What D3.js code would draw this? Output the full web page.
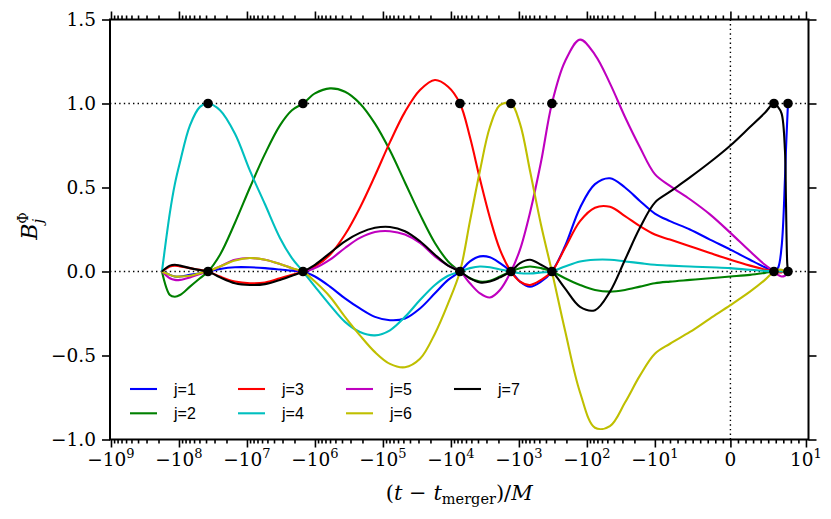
<!DOCTYPE html>
<html><head><meta charset="utf-8">
<script src="https://cdn.jsdelivr.net/npm/d3@7"></script>
<style>body{margin:0;background:#fff}svg{display:block}</style>
</head><body><svg id="c" width="831" height="519"></svg>
<script>
// ---------- data ----------
const tGrid = [-1.78e8, -1.36e8, -1.15e8, -9.67e7, -6.89e7, -4.91e7, -3.74e7, -2.49e7, -1.50e7, -9.04e6,
  -5.43e6, -3.27e6, -2.18e6, -1.50e6, -1.00e6, -6.01e5, -3.61e5, -2.18e5, -1.31e5, -7.88e4,
  -4.74e4, -2.85e4, -1.72e4, -1.10e4, -7.36e3, -5.25e3, -3.74e3, -2.67e3, -1.90e3, -1.31e3,
  -964, -687, -474, -327, -210, -126, -76, -45.8, -27.5, -16.6,
  -10, -8.0, -5.36, -2.71, 0, 2.59, 4.57, 5.76, 6.29, 6.78,
  7.22, 7.35, 7.52, 7.62];

const b1 = [0, -0.02, -0.03, -0.03, -0.02, -0.01, 0, 0.015, 0.025, 0.025,
  0.02, 0.012, 0.005, 0, -0.03, -0.09, -0.16, -0.22, -0.27, -0.29,
  -0.28, -0.22, -0.13, -0.05, 0, 0.06, 0.09, 0.085, 0.05, 0,
  -0.06, -0.09, -0.06, 0, 0.15, 0.38, 0.52, 0.555, 0.5, 0.42,
  0.345, 0.3, 0.25, 0.19, 0.13, 0.07, 0.025, 0, 0.02, 0.15,
  0.55, 0.72, 0.9, 1.0];
const b2 = [0, -0.14, -0.15, -0.14, -0.09, -0.04, 0, 0.1, 0.29, 0.5,
  0.7, 0.87, 0.96, 1.0, 1.06, 1.09, 1.07, 1.0, 0.88, 0.72,
  0.53, 0.34, 0.17, 0.06, 0, -0.04, -0.06, -0.055, -0.03, 0,
  0.02, 0.03, 0.02, 0, -0.04, -0.08, -0.11, -0.12, -0.11, -0.09,
  -0.07, -0.06, -0.05, -0.04, -0.03, -0.02, -0.008, 0, 0, 0,
  0, 0, 0, 0];
const b3 = [0, 0.03, 0.035, 0.03, 0.02, 0.01, 0, -0.03, -0.06, -0.07,
  -0.065, -0.04, -0.02, 0, 0.03, 0.1, 0.22, 0.38, 0.57, 0.77,
  0.95, 1.08, 1.14, 1.1, 1.0, 0.8, 0.55, 0.32, 0.13, 0,
  -0.06, -0.08, -0.05, 0, 0.14, 0.3, 0.38, 0.385, 0.33, 0.27,
  0.22, 0.19, 0.15, 0.11, 0.07, 0.035, 0.012, 0, -0.005, -0.005,
  0, 0, 0, 0];
const b4 = [0, 0.35, 0.52, 0.65, 0.87, 0.98, 1.0, 0.96, 0.82, 0.6,
  0.4, 0.2, 0.08, 0, -0.09, -0.2, -0.3, -0.36, -0.38, -0.35,
  -0.27, -0.17, -0.08, -0.025, 0, 0.02, 0.03, 0.025, 0.012, 0,
  -0.01, -0.012, -0.006, 0, 0.03, 0.06, 0.07, 0.07, 0.06, 0.05,
  0.04, 0.035, 0.03, 0.025, 0.02, 0.01, 0.004, 0, 0, 0,
  0, 0, 0, 0];
const b5 = [0, -0.04, -0.05, -0.05, -0.035, -0.015, 0, 0.03, 0.07, 0.08,
  0.07, 0.045, 0.02, 0, 0.02, 0.07, 0.14, 0.2, 0.235, 0.24,
  0.22, 0.17, 0.09, 0.035, 0, -0.07, -0.13, -0.155, -0.11, 0,
  0.13, 0.35, 0.65, 1.0, 1.25, 1.38, 1.29, 1.12, 0.92, 0.74,
  0.58, 0.51, 0.43, 0.34, 0.23, 0.12, 0.04, 0, -0.02, -0.03,
  -0.025, -0.02, -0.01, 0];
const b6 = [0, -0.02, -0.03, -0.03, -0.025, -0.01, 0, 0.03, 0.065, 0.08,
  0.07, 0.045, 0.02, 0, -0.06, -0.15, -0.27, -0.38, -0.48, -0.55,
  -0.57, -0.52, -0.37, -0.19, 0, 0.3, 0.6, 0.86, 0.99, 1.0,
  0.88, 0.6, 0.28, 0, -0.35, -0.72, -0.93, -0.92, -0.78, -0.62,
  -0.49, -0.43, -0.36, -0.28, -0.2, -0.12, -0.05, 0, 0.01, 0.01,
  0, 0, 0, 0];
const b7 = [0, 0.035, 0.04, 0.035, 0.02, 0.008, 0, -0.035, -0.07, -0.08,
  -0.075, -0.05, -0.025, 0, 0.04, 0.11, 0.18, 0.23, 0.26, 0.265,
  0.24, 0.18, 0.1, 0.035, 0, -0.04, -0.065, -0.06, -0.035, 0,
  0.05, 0.07, 0.04, 0, -0.1, -0.21, -0.23, -0.12, 0.07, 0.26,
  0.41, 0.475, 0.56, 0.65, 0.75, 0.86, 0.945, 1.0, 0.98, 0.94,
  0.72, 0.43, 0.05, 0];

const seriesNames = ["j=1", "j=2", "j=3", "j=4", "j=5", "j=6", "j=7"];
const seriesColors = ["#0000ff", "#008000", "#ff0000", "#00bfbf", "#bf00bf", "#bfbf00", "#000000"];
const seriesValues = [b1, b2, b3, b4, b5, b6, b7];

const nodeT = [-3.74e7, -1.50e6, -7.36e3, -1.31e3, -327, 5.76, 7.62];
const nodeLevels = [0, 1];

const xMajorNeg = [9, 8, 7, 6, 5, 4, 3, 2, 1];   // -10^k
const xMajorPos = [1];                           // 10^k
const yTicks = [-1.0, -0.5, 0.0, 0.5, 1.0, 1.5];
const xLimits = [-1.034e9, 10.9];
const yLimits = [-1.0, 1.5];

// ---------- symlog transform (linthresh 10, linscale 1) ----------
const LT = 10, LS = 1 / (1 - 1 / 10);
function sl(t) {
  const a = Math.abs(t);
  return a <= LT ? t / LT * LS : Math.sign(t) * (LS + Math.log10(a / LT));
}

const L = 110, R = 808.5, T = 19.5, B = 439.5;
const svg = d3.select("#c");

const xs = d3.scaleLinear().domain(xLimits.map(sl)).range([L, R]);
const ys = d3.scaleLinear().domain(yLimits).range([B, T]);
const X = t => xs(sl(t));

// minor ticks
const minorT = [];
for (let k = 1; k <= 8; k++) for (let m = 2; m <= 9; m++) minorT.push(-m * Math.pow(10, k));
for (let i = -9; i <= 9; i++) if (i !== 0) minorT.push(i);
const majorT = xMajorNeg.map(k => -Math.pow(10, k)).concat([0], xMajorPos.map(k => Math.pow(10, k)));

svg.append("defs").append("clipPath").attr("id", "clip")
  .append("rect").attr("x", L).attr("y", T).attr("width", R - L).attr("height", B - T);

// dotted reference lines
const ref = svg.append("g").attr("stroke", "#000").attr("stroke-width", 1.4)
  .attr("stroke-dasharray", "1.4,3.2").attr("fill", "none");
[0, 1].forEach(v => ref.append("line").attr("x1", L).attr("x2", R).attr("y1", ys(v)).attr("y2", ys(v)));
ref.append("line").attr("x1", X(0)).attr("x2", X(0)).attr("y1", T).attr("y2", B);

// curves
const line = d3.line().x(d => X(d[0])).y(d => ys(d[1])).curve(d3.curveCatmullRom.alpha(0.5));
const gC = svg.append("g").attr("clip-path", "url(#clip)");
seriesValues.forEach((vals, i) => {
  gC.append("path").datum(tGrid.map((t, k) => [t, vals[k]]))
    .attr("d", line).attr("fill", "none").attr("stroke", seriesColors[i])
    .attr("stroke-width", 2.1).attr("stroke-linejoin", "round");
});

// markers
const pts = [];
nodeT.forEach(t => nodeLevels.forEach(v => pts.push([t, v])));
svg.append("g").selectAll("circle").data(pts).join("circle")
  .attr("cx", d => X(d[0])).attr("cy", d => ys(d[1])).attr("r", 4.8).attr("fill", "#000");

// axes
const axB = d3.axisBottom(xs).tickValues(majorT.map(sl)).tickFormat("").tickSizeInner(8).tickSizeOuter(0);
const axBm = d3.axisBottom(xs).tickValues(minorT.map(sl)).tickFormat("").tickSizeInner(4).tickSizeOuter(0);
const axT = d3.axisTop(xs).tickValues(majorT.map(sl)).tickFormat("").tickSizeInner(8).tickSizeOuter(0);
const axTm = d3.axisTop(xs).tickValues(minorT.map(sl)).tickFormat("").tickSizeInner(4).tickSizeOuter(0);
const axL = d3.axisLeft(ys).tickValues(yTicks).tickFormat("").tickSizeInner(8).tickSizeOuter(0);
const axR = d3.axisRight(ys).tickValues(yTicks).tickFormat("").tickSizeInner(8).tickSizeOuter(0);
function styleAx(g) { g.select(".domain").remove(); g.selectAll("line").attr("stroke", "#000").attr("stroke-width", 1.6); }
svg.append("g").attr("transform", `translate(0,${B})`).call(axB).call(styleAx);
svg.append("g").attr("transform", `translate(0,${B})`).call(axBm).call(styleAx);
svg.append("g").attr("transform", `translate(0,${T})`).call(axT).call(styleAx);
svg.append("g").attr("transform", `translate(0,${T})`).call(axTm).call(styleAx);
svg.append("g").attr("transform", `translate(${L},0)`).call(axL).call(styleAx);
svg.append("g").attr("transform", `translate(${R},0)`).call(axR).call(styleAx);

svg.append("rect").attr("x", L).attr("y", T).attr("width", R - L).attr("height", B - T)
  .attr("fill", "none").attr("stroke", "#000").attr("stroke-width", 2);

// x tick labels
const FONT = "'DejaVu Serif', serif";
const xl = svg.append("g").attr("font-family", FONT).attr("fill", "#000");
function xLabel(t, base, exp) {
  const tx = xl.append("text").attr("x", X(t)).attr("y", 466).attr("text-anchor", "middle").attr("font-size", 18.5);
  tx.append("tspan").text(base);
  if (exp !== null) tx.append("tspan").attr("dy", -8).attr("font-size", 13).text(exp);
}
xMajorNeg.forEach(k => xLabel(-Math.pow(10, k), "\u221210", String(k)));
xLabel(0, "0", null);
xMajorPos.forEach(k => xLabel(Math.pow(10, k), "10", String(k)));

// y tick labels
svg.append("g").attr("font-family", FONT).attr("font-size", 18.5).selectAll("text").data(yTicks).join("text")
  .attr("x", 96).attr("y", d => ys(d)).attr("dy", "0.36em").attr("text-anchor", "end")
  .text(d => (d < 0 ? "\u2212" : "") + Math.abs(d).toFixed(1));

// axis titles
const xt = svg.append("text").attr("x", (L + R) / 2).attr("y", 500).attr("text-anchor", "middle")
  .attr("font-family", FONT).attr("font-size", 21);
xt.append("tspan").text("(");
xt.append("tspan").attr("font-style", "italic").text("t");
xt.append("tspan").text(" \u2212 ");
xt.append("tspan").attr("font-style", "italic").text("t");
xt.append("tspan").attr("font-size", 14.5).attr("dy", 4).text("merger");
xt.append("tspan").attr("dy", -4).text(")/");
xt.append("tspan").attr("font-style", "italic").text("M");

const yt = svg.append("text").attr("transform", "translate(37,226) rotate(-90)").attr("text-anchor", "middle")
  .attr("font-family", FONT).attr("font-size", 22);
yt.append("tspan").attr("font-style", "italic").text("B");
yt.append("tspan").attr("font-size", 14).attr("dy", -9).text("\u03A6");
yt.append("tspan").attr("font-size", 14).attr("font-style", "italic").attr("dx", -11).attr("dy", 15).text("j");

// legend
const lg = svg.append("g").attr("font-family", "'Liberation Sans', Arial, sans-serif").attr("font-size", 16);
seriesNames.forEach((n, i) => {
  const col = Math.floor(i / 2), row = i % 2;
  const x0 = 130 + col * 108, y0 = 389 + row * 24.3;
  lg.append("line").attr("x1", x0).attr("x2", x0 + 27).attr("y1", y0).attr("y2", y0)
    .attr("stroke", seriesColors[i]).attr("stroke-width", 2.1);
  lg.append("text").attr("x", x0 + 44).attr("y", y0 + 6).text(n);
});
</script>
</body></html>
